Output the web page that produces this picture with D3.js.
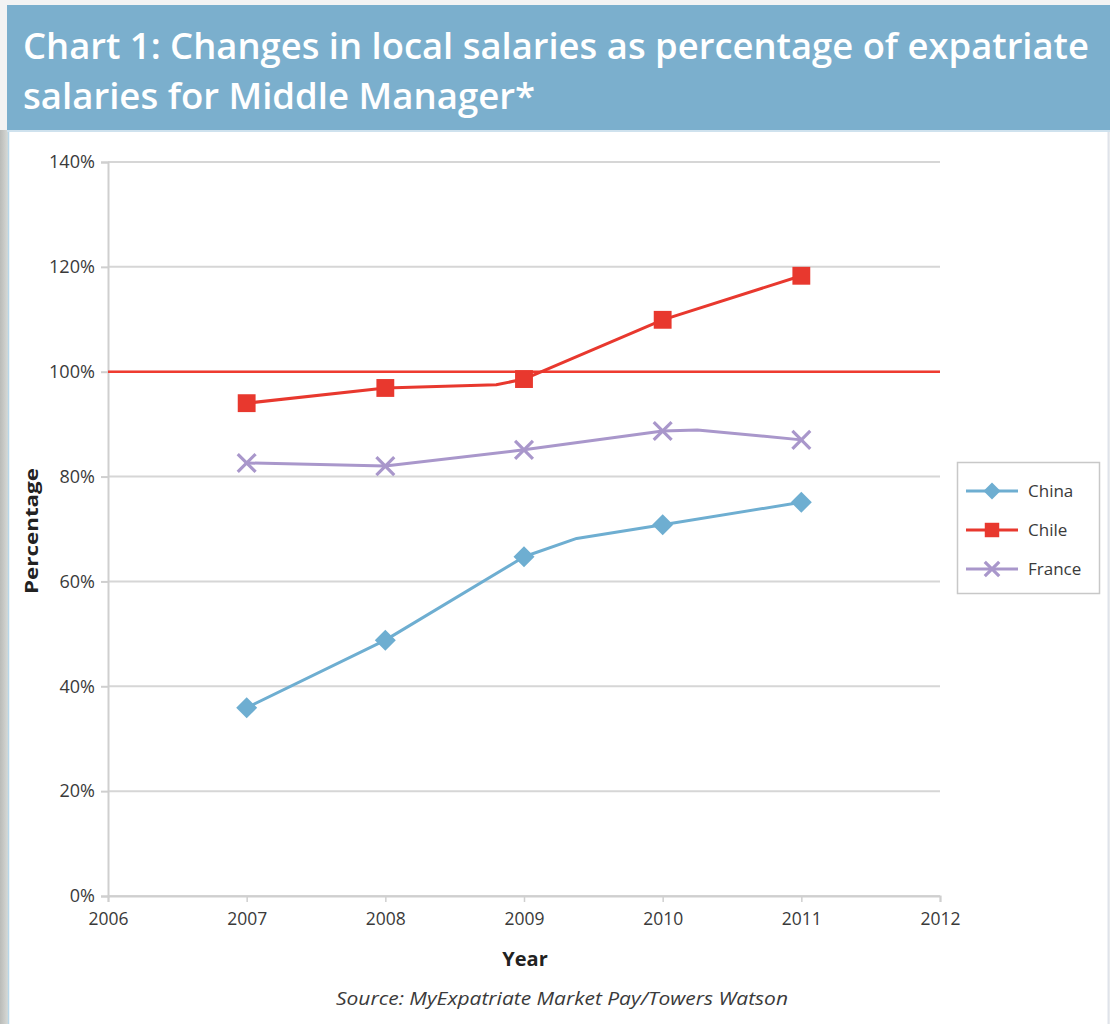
<!DOCTYPE html>
<html><head><meta charset="utf-8">
<script src="https://cdn.jsdelivr.net/npm/d3@7"></script>
<style>
html,body{margin:0;padding:0;background:#fff;}
svg{display:block;}
</style></head>
<body>
<svg id="chart" width="1110" height="1024"></svg>
<script>
// ---- data ----
const titleLines = ["Chart 1: Changes in local salaries as percentage of expatriate", "salaries for Middle Manager*"];
const seriesNames = ["China", "Chile", "France"];
const chinaX = [2007, 2008, 2009, 2009.38, 2010, 2011];
const chinaY = [0.359, 0.488, 0.647, 0.682, 0.708, 0.751];
const chileX = [2007, 2008, 2008.8, 2009, 2010, 2011];
const chileY = [0.940, 0.969, 0.975, 0.986, 1.099, 1.183];
const franceX = [2007, 2008, 2009, 2010, 2010.25, 2011];
const franceY = [0.826, 0.820, 0.851, 0.887, 0.889, 0.870];
const referenceValue = 1.0;
const xTicks = [2006, 2007, 2008, 2009, 2010, 2011, 2012];
const yTicks = [0, 0.2, 0.4, 0.6, 0.8, 1.0, 1.2, 1.4];
const xLabel = "Year";
const yLabel = "Percentage";
const sourceText = "Source: MyExpatriate Market Pay/Towers Watson";

const colors = {China: "#6eaed1", Chile: "#e8382e", France: "#a997cb"};
const markers = {China: "diamond", Chile: "square", France: "cross"};
const series = [
  {name: "China", xs: chinaX, ys: chinaY},
  {name: "Chile", xs: chileX, ys: chileY},
  {name: "France", xs: franceX, ys: franceY}
];

const svg = d3.select("#chart");
const font = "'Open Sans', sans-serif";

// ---- background & frame ----
const bg = svg.append("defs").append("linearGradient").attr("id", "side").attr("x1", 0).attr("x2", 1);
bg.append("stop").attr("offset", 0).attr("stop-color", "#b9bbb8");
bg.append("stop").attr("offset", 1).attr("stop-color", "#d8dad7");
svg.append("rect").attr("x", 0).attr("y", 0).attr("width", 1110).attr("height", 1024).attr("fill", "#f3f3f3");
svg.append("rect").attr("x", 0).attr("y", 130).attr("width", 8).attr("height", 894).attr("fill", "url(#side)");
svg.append("rect").attr("x", 8).attr("y", 130).attr("width", 1100).attr("height", 894).attr("fill", "#ffffff");
svg.append("line").attr("x1", 8.5).attr("x2", 8.5).attr("y1", 130).attr("y2", 1024).attr("stroke", "#b7d6e8").attr("stroke-width", 1.5);
svg.append("line").attr("x1", 1108.5).attr("x2", 1108.5).attr("y1", 130).attr("y2", 1024).attr("stroke", "#dfe3ea").attr("stroke-width", 2);

// title banner
svg.append("rect").attr("x", 7).attr("y", 5).attr("width", 1103).attr("height", 126).attr("fill", "#7bafcd");
svg.append("line").attr("x1", 7).attr("x2", 1110).attr("y1", 131).attr("y2", 131).attr("stroke", "#cfe2ee").attr("stroke-width", 2);
const tl = [{t: titleLines[0], y: 59, w: 1066}, {t: titleLines[1], y: 109, w: 512}];
svg.selectAll("text.title").data(tl).join("text")
  .attr("class", "title")
  .attr("x", 23).attr("y", d => d.y)
  .attr("fill", "#ffffff")
  .attr("font-family", font)
  .attr("font-size", 36)
  .attr("font-weight", 600)
  .attr("textLength", d => d.w)
  .attr("lengthAdjust", "spacingAndGlyphs")
  .text(d => d.t);

// ---- scales ----
const x = d3.scaleLinear().domain([2006, 2012]).range([108, 940]);
const y = d3.scaleLinear().domain([0, 1.4]).range([896, 162]);

// gridlines
svg.append("g").selectAll("line").data(yTicks).join("line")
  .attr("x1", x(2006)).attr("x2", x(2012))
  .attr("y1", d => y(d)).attr("y2", d => y(d))
  .attr("stroke", "#d6d6d6").attr("stroke-width", 2);

// y axis
const yAxis = svg.append("g").attr("transform", `translate(${x(2006)},0)`)
  .call(d3.axisLeft(y).tickValues(yTicks).tickFormat(d3.format(".0%")).tickSize(7).tickPadding(6));
yAxis.select(".domain").attr("stroke", "#cfcfcf").attr("stroke-width", 2);
yAxis.selectAll(".tick line").attr("stroke", "#cfcfcf").attr("stroke-width", 2);
yAxis.selectAll("text").attr("font-family", font).attr("font-size", 18).attr("fill", "#3a3a3a");
yAxis.selectAll("text").filter(d => d >= 1).attr("textLength", 46).attr("lengthAdjust", "spacingAndGlyphs");

// x axis
const xAxis = svg.append("g").attr("transform", `translate(0,${y(0)})`)
  .call(d3.axisBottom(x).tickValues(xTicks).tickFormat(d3.format("d")).tickSize(6).tickPadding(10));
xAxis.select(".domain").attr("stroke", "#cfcfcf").attr("stroke-width", 2);
xAxis.selectAll(".tick line").attr("stroke", "#cfcfcf").attr("stroke-width", 1.5);
xAxis.selectAll("text").attr("font-family", font).attr("font-size", 18).attr("fill", "#3a3a3a")
  .attr("textLength", 40).attr("lengthAdjust", "spacingAndGlyphs");

// reference line at 100%
svg.append("line").attr("x1", x(2006)).attr("x2", x(2012))
  .attr("y1", y(referenceValue)).attr("y2", y(referenceValue))
  .attr("stroke", "#ef3b30").attr("stroke-width", 2.5);

// axis labels
svg.append("text").attr("x", 525).attr("y", 966).attr("text-anchor", "middle")
  .attr("font-family", font).attr("font-size", 20).attr("font-weight", "bold").attr("fill", "#222")
  .text(xLabel);
svg.append("text").attr("transform", "translate(38,531) rotate(-90)").attr("text-anchor", "middle")
  .attr("font-family", font).attr("font-size", 17).attr("font-weight", "bold").attr("fill", "#222")
  .attr("textLength", 126).attr("lengthAdjust", "spacingAndGlyphs")
  .text(yLabel);
svg.append("text").attr("x", 562).attr("y", 1005).attr("text-anchor", "middle")
  .attr("font-family", font).attr("font-size", 19).attr("font-style", "italic").attr("fill", "#3a3a3a")
  .attr("textLength", 452).attr("lengthAdjust", "spacingAndGlyphs")
  .text(sourceText);

// ---- series ----
const line = d3.line().x(d => x(d[0])).y(d => y(d[1]));
function drawMarker(g, type, cx, cy, color, s) {
  if (type === "diamond") {
    g.append("path").attr("d", `M${cx},${cy - s}L${cx + s},${cy}L${cx},${cy + s}L${cx - s},${cy}Z`).attr("fill", color);
  } else if (type === "square") {
    g.append("rect").attr("x", cx - s * 0.85).attr("y", cy - s * 0.85).attr("width", s * 1.7).attr("height", s * 1.7).attr("fill", color);
  } else {
    const r = s * 0.85;
    g.append("path").attr("d", `M${cx - r},${cy - r}L${cx + r},${cy + r}M${cx - r},${cy + r}L${cx + r},${cy - r}`)
      .attr("stroke", color).attr("stroke-width", 3.2).attr("fill", "none");
  }
}
const sg = svg.append("g");
series.forEach(s => {
  const pts = s.xs.map((v, i) => [v, s.ys[i]]);
  sg.append("path").datum(pts).attr("d", line).attr("fill", "none")
    .attr("stroke", colors[s.name]).attr("stroke-width", 3).attr("stroke-linejoin", "round");
  pts.filter(p => Number.isInteger(p[0])).forEach(p => {
    drawMarker(sg, markers[s.name], x(p[0]), y(p[1]), colors[s.name], 10.5);
  });
});

// ---- legend ----
const lg = svg.append("g");
lg.append("rect").attr("x", 957.5).attr("y", 462.5).attr("width", 142).attr("height", 131)
  .attr("fill", "#fff").attr("stroke", "#c8c8c8").attr("stroke-width", 1.5);
seriesNames.forEach((n, i) => {
  const ly = 491 + i * 39;
  lg.append("line").attr("x1", 966).attr("x2", 1018).attr("y1", ly).attr("y2", ly)
    .attr("stroke", colors[n]).attr("stroke-width", 3);
  drawMarker(lg, markers[n], 992, ly, colors[n], 8.5);
  lg.append("text").attr("x", 1028).attr("y", ly + 6).attr("font-family", font).attr("font-size", 17)
    .attr("fill", "#3a3a3a").text(n);
});
</script>
</body></html>
